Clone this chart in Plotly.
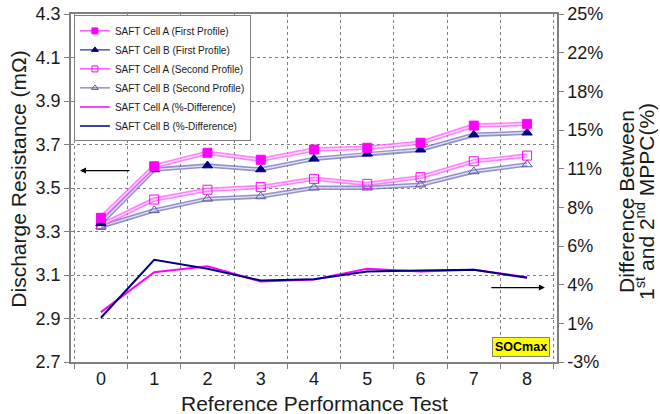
import numpy as np
import plotly.graph_objects as go

rpt = ["0", "1", "2", "3", "4", "5", "6", "7", "8"]
cell_a_first = [3.363, 3.600, 3.662, 3.630, 3.677, 3.685, 3.708, 3.787, 3.795]
cell_b_first = [3.338, 3.585, 3.603, 3.585, 3.634, 3.657, 3.676, 3.745, 3.754]
cell_a_second = [3.330, 3.447, 3.492, 3.504, 3.542, 3.519, 3.550, 3.623, 3.649]
cell_b_second = [3.323, 3.397, 3.450, 3.461, 3.501, 3.501, 3.515, 3.576, 3.608]
cell_a_diff = [1.01, 4.22, 4.71, 3.48, 3.64, 4.50, 4.28, 4.42, 3.82]
cell_b_diff = [0.56, 5.22, 4.50, 3.56, 3.66, 4.28, 4.36, 4.42, 3.77]

left_ticks = [2.7, 2.9, 3.1, 3.3, 3.5, 3.7, 3.9, 4.1, 4.3]
right_ticktext = ["-3%", "1%", "4%", "6%", "8%", "11%", "15%", "18%", "22%", "25%"]
right_range = [-3, 25]

FONT = "Arial, Liberation Sans, sans-serif"
MAG = "#FF00FF"
NAVY = "#000080"
TXT = "#1a1a1a"

fig = go.Figure()

def profile(y, outer, inner, symbol, mcolor, mfill, mline):
    fig.add_trace(go.Scatter(x=rpt, y=y, mode="lines", line=dict(color=outer, width=4.5),
                             showlegend=False, hoverinfo="skip"))
    fig.add_trace(go.Scatter(x=rpt, y=y, mode="lines", line=dict(color=inner, width=1.3),
                             showlegend=False, hoverinfo="skip"))
    fig.add_trace(go.Scatter(x=rpt, y=y, mode="markers",
                             marker=dict(symbol=symbol, size=9, color=mfill,
                                         line=dict(color=mcolor, width=mline)),
                             showlegend=False))

profile(cell_b_second, "rgba(110,110,185,0.75)", "#E4E4F6", "triangle-up-open", "#5A5AAA", "#5A5AAA", 1)
profile(cell_a_second, "rgba(255,90,255,0.75)", "#FFD8FF", "square-open", MAG, MAG, 1)
profile(cell_b_first, "rgba(110,110,185,0.75)", "#E4E4F6", "triangle-up", NAVY, NAVY, 1)
profile(cell_a_first, "rgba(255,90,255,0.75)", "#FFD8FF", "square", MAG, MAG, 1)

fig.add_trace(go.Scatter(x=rpt, y=cell_a_diff, mode="lines", yaxis="y2",
                         line=dict(color=MAG, width=2), showlegend=False))
fig.add_trace(go.Scatter(x=rpt, y=cell_b_diff, mode="lines", yaxis="y2",
                         line=dict(color=NAVY, width=2), showlegend=False))

# legend proxies
legend_items = [
    ("SAFT Cell A (First Profile)", MAG, "square", "lines+markers"),
    ("SAFT Cell B (First Profile)", NAVY, "triangle-up", "lines+markers"),
    ("SAFT Cell A (Second Profile)", MAG, "square-open", "lines+markers"),
    ("SAFT Cell B (Second Profile)", "#5A5AAA", "triangle-up-open", "lines+markers"),
    ("SAFT Cell A (%-Difference)", MAG, None, "lines"),
    ("SAFT Cell B (%-Difference)", NAVY, None, "lines"),
]
for name, col, sym, mode in legend_items:
    mk = dict(symbol=sym, size=6, color=col, line=dict(color=col, width=1)) if sym else None
    fig.add_trace(go.Scatter(x=[None], y=[None], name=name, mode=mode,
                             line=dict(color=col, width=1.5 if sym is None else 1),
                             marker=mk, showlegend=True))

fig.add_annotation(xref="paper", yref="paper", x=0.0185, y=0.550, ax=51, ay=0,
                   showarrow=True, arrowhead=2, arrowsize=1, arrowwidth=1.2, arrowcolor="black", text="")
fig.add_annotation(xref="paper", yref="paper", x=0.975, y=0.214, ax=-55, ay=0,
                   showarrow=True, arrowhead=2, arrowsize=1, arrowwidth=1.2, arrowcolor="black", text="")
fig.add_annotation(xref="paper", yref="paper", x=0.9255, y=0.0437, xanchor="center", yanchor="middle",
                   showarrow=False, text="<b>SOCmax</b>", font=dict(family=FONT, size=12.5, color="black"),
                   bgcolor="#FFFF00", bordercolor="#808080", borderwidth=1, borderpad=2)

# titles
fig.add_annotation(xref="paper", yref="paper", x=0.5, y=-0.119, xanchor="center", yanchor="middle",
                   showarrow=False, text="Reference Performance Test",
                   font=dict(family=FONT, size=21, color=TXT))
fig.add_annotation(xref="paper", yref="paper", x=(19 - 71) / 486, y=0.524, xanchor="center",
                   yanchor="middle", showarrow=False, textangle=-90,
                   text="Discharge Resistance (mΩ)", font=dict(family=FONT, size=21, color=TXT))
fig.add_annotation(xref="paper", yref="paper", x=(627 - 71) / 486, y=0.46, xanchor="center",
                   yanchor="middle", showarrow=False, textangle=-90,
                   text="Difference Between", font=dict(family=FONT, size=21, color=TXT))
fig.add_annotation(xref="paper", yref="paper", x=(645 - 71) / 486, y=0.46, xanchor="center",
                   yanchor="middle", showarrow=False, textangle=-90,
                   text="1<sup>st</sup> and 2<sup>nd</sup> MPPC(%)",
                   font=dict(family=FONT, size=21, color=TXT))

fig.update_layout(
    width=660, height=414,
    margin=dict(l=71, r=103, t=14, b=52, autoexpand=False),
    paper_bgcolor="white", plot_bgcolor="white",
    font=dict(family=FONT, size=18, color=TXT),
    xaxis=dict(type="category", tickson="boundaries", ticks="outside", ticklen=5,
               tickcolor="#808080", showgrid=True, gridcolor="#808080", griddash="dot",
               gridwidth=1, showline=True, linecolor="#808080", linewidth=1.5, mirror=True,
               tickfont=dict(size=18), automargin=False),
    yaxis=dict(range=[2.7, 4.3], tickvals=left_ticks, ticktext=[f"{v:.1f}" for v in left_ticks],
               ticks="outside", ticklen=5, tickcolor="#808080", showgrid=True,
               gridcolor="#808080", griddash="dot", gridwidth=1, showline=True,
               linecolor="#808080", linewidth=1.5, zeroline=False, tickfont=dict(size=18),
               automargin=False, ticklabeloverflow="allow"),
    yaxis2=dict(range=right_range, overlaying="y", side="right",
                tickvals=list(np.linspace(right_range[0], right_range[1], len(right_ticktext))),
                ticktext=right_ticktext, ticks="outside", ticklen=5, tickcolor="#808080",
                showgrid=False, showline=True, linecolor="#808080", linewidth=1.5,
                zeroline=False, tickfont=dict(size=18), automargin=False,
                ticklabeloverflow="allow"),
    legend=dict(x=0.006, y=0.996, xanchor="left", yanchor="top", bgcolor="white",
                bordercolor="#808080", borderwidth=1, font=dict(family=FONT, size=10, color=TXT),
                tracegroupgap=0, itemwidth=30),
    showlegend=True,
)

# remove the page's default 8px body margin so the figure sits at the window's corner
fig.write_html("out.html", config={"displayModeBar": False},
               post_script="document.body.style.margin='0px';")
